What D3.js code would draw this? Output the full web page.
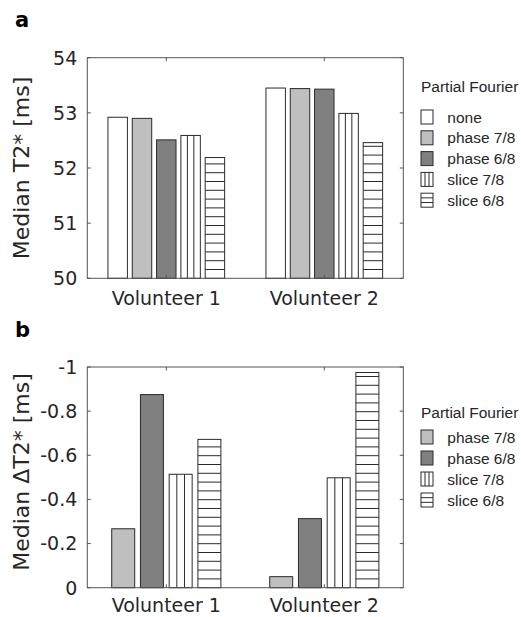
<!DOCTYPE html>
<html><head><meta charset="utf-8">
<script src="https://cdn.jsdelivr.net/npm/d3@7"></script>
<style>body{margin:0;background:#fff}svg{display:block}</style>
</head><body>
<script>
// ---- data ----
const categories = ["Volunteer 1", "Volunteer 2"];
const seriesA = ["none", "phase 7/8", "phase 6/8", "slice 7/8", "slice 6/8"];
const valuesA = [
  [52.92, 52.90, 52.51, 52.59, 52.19],
  [53.45, 53.44, 53.43, 52.99, 52.46]
];
const ticksA = [50, 51, 52, 53, 54];
const tickLabelsA = ["50", "51", "52", "53", "54"];

const seriesB = ["phase 7/8", "phase 6/8", "slice 7/8", "slice 6/8"];
const valuesB = [
  [-0.267, -0.875, -0.514, -0.672],
  [-0.050, -0.313, -0.498, -0.975]
];
const ticksB = [0, -0.2, -0.4, -0.6, -0.8, -1];
const tickLabelsB = ["0", "-0.2", "-0.4", "-0.6", "-0.8", "-1"];

const legendTitle = "Partial Fourier";

// ---- styles ----
const styles = {
  "none":      {fill: "#ffffff", hatch: null},
  "phase 7/8": {fill: "#bfbfbf", hatch: null},
  "phase 6/8": {fill: "#808080", hatch: null},
  "slice 7/8": {fill: "#ffffff", hatch: "v"},
  "slice 6/8": {fill: "#ffffff", hatch: "h"}
};
const edge = "#2b2b2b";
const axisColor = "#555555";
const textColor = "#262626";

const W = 521, H = 617;
const svg = d3.select("body").append("svg").attr("width", W).attr("height", H);

function panel(opt) {
  const {letter, letterY, top, bottom, series, values, domain, ticks, tickLabels, ylabel, ylabelY, legendTop, legendStep} = opt;
  const left = 87.3, right = 403.3;
  const g = svg.append("g");
  const x = d3.scaleLinear().domain([0.5, categories.length + 0.5]).range([left, right]);
  const y = d3.scaleLinear().domain(domain).range([bottom, top]);
  const n = series.length;
  const gw = Math.min(0.8, n / (n + 1.5));
  const pxPerUnit = x(1) - x(0);
  const sub = d3.scaleBand().domain(series).range([-gw / 2 * pxPerUnit, gw / 2 * pxPerUnit])
    .paddingInner(0.2).paddingOuter(0.1);
  const base = domain[0];

  categories.forEach((cat, ci) => {
    series.forEach((s, si) => {
      const v = values[ci][si];
      const bx = x(ci + 1) + sub(s);
      const bw = sub.bandwidth();
      const y0 = y(base), y1 = y(v);
      const st = styles[s];
      g.append("rect").attr("x", bx).attr("y", y1).attr("width", bw).attr("height", y0 - y1)
        .attr("fill", st.fill).attr("stroke", edge).attr("stroke-width", 1);
      if (st.hatch === "v") {
        [1 / 3, 2 / 3].forEach(f => {
          g.append("line").attr("x1", bx + bw * f).attr("x2", bx + bw * f)
            .attr("y1", y1).attr("y2", y0).attr("stroke", edge).attr("stroke-width", 1);
        });
      } else if (st.hatch === "h") {
        const step = 8.8;
        for (let yy = y0 - step; yy > y1 + 1; yy -= step) {
          g.append("line").attr("x1", bx).attr("x2", bx + bw)
            .attr("y1", yy).attr("y2", yy).attr("stroke", edge).attr("stroke-width", 1);
        }
      }
    });
  });

  // axes box
  g.append("rect").attr("x", left).attr("y", top).attr("width", right - left).attr("height", bottom - top)
    .attr("fill", "none").attr("stroke", axisColor).attr("stroke-width", 1);
  const tl = 3.5;
  // y ticks (left & right, inward)
  ticks.forEach((t, i) => {
    const yy = y(t);
    g.append("line").attr("x1", left).attr("x2", left + tl).attr("y1", yy).attr("y2", yy).attr("stroke", axisColor);
    g.append("line").attr("x1", right).attr("x2", right - tl).attr("y1", yy).attr("y2", yy).attr("stroke", axisColor);
    g.append("text").attr("x", left - 10).attr("y", yy).attr("dy", "0.36em")
      .attr("text-anchor", "end").attr("font-family", "DejaVu Sans").attr("font-size", 19)
      .attr("fill", textColor).text(tickLabels[i]);
  });
  // x ticks (top & bottom, inward)
  categories.forEach((c, ci) => {
    const xx = x(ci + 1);
    g.append("line").attr("x1", xx).attr("x2", xx).attr("y1", top).attr("y2", top + tl).attr("stroke", axisColor);
    g.append("line").attr("x1", xx).attr("x2", xx).attr("y1", bottom).attr("y2", bottom - tl).attr("stroke", axisColor);
    g.append("text").attr("x", xx).attr("y", Math.min(bottom + 27, H - 5)).attr("text-anchor", "middle")
      .attr("font-family", "DejaVu Sans").attr("font-size", 19).attr("fill", textColor).text(c);
  });
  // y label
  g.append("text").attr("transform", `translate(29,${ylabelY}) rotate(-90)`).attr("text-anchor", "middle")
    .attr("font-family", "DejaVu Sans").attr("font-size", 22).attr("fill", textColor).text(ylabel);
  // panel letter
  g.append("text").attr("x", 15).attr("y", letterY).attr("font-family", "DejaVu Sans").attr("font-weight", "bold")
    .attr("font-size", 21).attr("fill", "#000").text(letter);

  // legend
  const lx = 421;
  const lg = g.append("g");
  lg.append("text").attr("x", lx).attr("y", legendTop).attr("font-family", "Liberation Sans")
    .attr("font-size", 15.5).attr("fill", textColor).text(legendTitle);
  series.forEach((s, i) => {
    const cy = legendTop + legendStep.first + i * legendStep.step;
    const bw = 12, bh = 14;
    const st = styles[s];
    lg.append("rect").attr("x", lx).attr("y", cy - bh / 2).attr("width", bw).attr("height", bh)
      .attr("fill", st.fill).attr("stroke", edge).attr("stroke-width", 1);
    if (st.hatch === "v") {
      [1 / 3, 2 / 3].forEach(f => lg.append("line").attr("x1", lx + bw * f).attr("x2", lx + bw * f)
        .attr("y1", cy - bh / 2).attr("y2", cy + bh / 2).attr("stroke", edge));
    } else if (st.hatch === "h") {
      [1 / 3, 2 / 3].forEach(f => lg.append("line").attr("x1", lx).attr("x2", lx + bw)
        .attr("y1", cy - bh / 2 + bh * f).attr("y2", cy - bh / 2 + bh * f).attr("stroke", edge));
    }
    lg.append("text").attr("x", 447.3).attr("y", cy).attr("dy", "0.36em").attr("font-family", "Liberation Sans")
      .attr("font-size", 15.5).attr("fill", textColor).text(s);
  });
}

panel({letter: "a", letterY: 26.7, top: 57.7, bottom: 278.3, series: seriesA, values: valuesA,
  domain: [50, 54], ticks: ticksA, tickLabels: tickLabelsA, ylabel: "Median T2* [ms]", ylabelY: 168,
  legendTop: 91.7, legendStep: {first: 25.3, step: 20.8}});
panel({letter: "b", letterY: 336.7, top: 367, bottom: 587.7, series: seriesB, values: valuesB,
  domain: [0, -1], ticks: ticksB, tickLabels: tickLabelsB, ylabel: "Median \u0394T2* [ms]", ylabelY: 472,
  legendTop: 418.3, legendStep: {first: 18.7, step: 21}});
</script>
</body></html>
